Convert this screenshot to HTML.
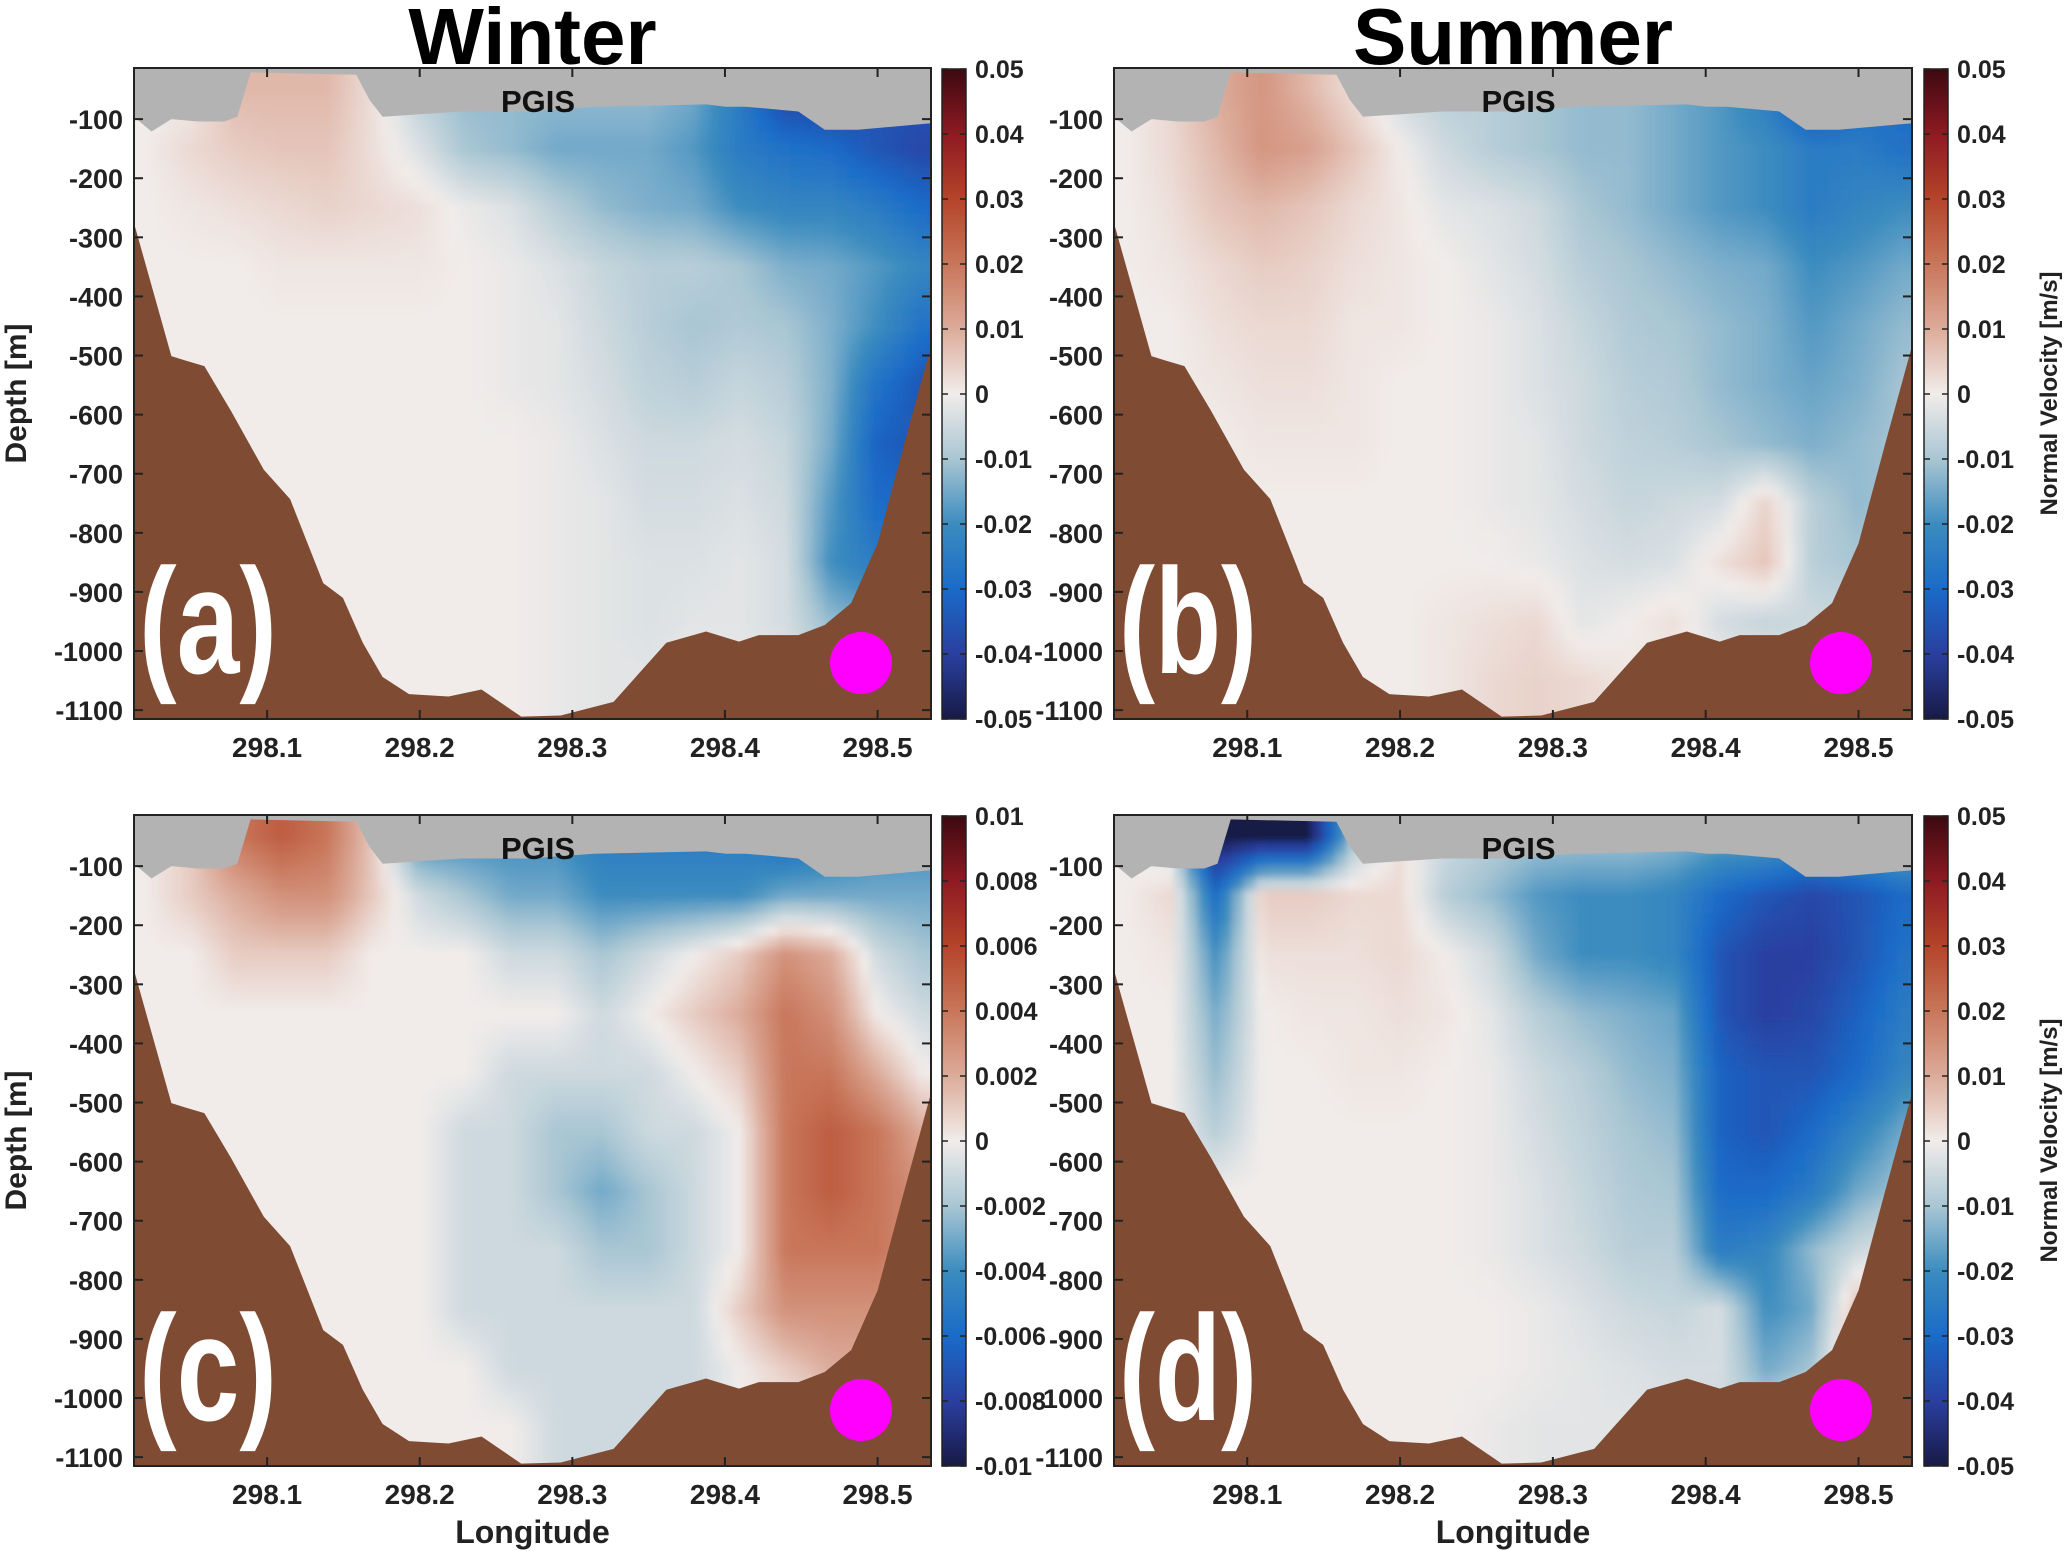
<!DOCTYPE html>
<html><head><meta charset="utf-8"><style>
html,body{margin:0;padding:0;background:#fff;}
svg{display:block;font-family:"Liberation Sans",Arial,sans-serif;}
</style></head><body>
<svg id="fig" width="2067" height="1551" viewBox="0 0 2067 1551">
<defs>
<filter id="blur" x="-5%" y="-5%" width="110%" height="110%"><feGaussianBlur stdDeviation="4"/></filter>
<linearGradient id="cbar" x1="0" y1="1" x2="0" y2="0">
<stop offset="0" stop-color="#181a45"/><stop offset="0.1" stop-color="#2a3fa0"/><stop offset="0.2" stop-color="#1a6bc8"/>
<stop offset="0.3" stop-color="#3c8cbf"/><stop offset="0.4" stop-color="#a9c6d3"/><stop offset="0.5" stop-color="#f1ecea"/>
<stop offset="0.6" stop-color="#dcab9a"/><stop offset="0.7" stop-color="#c8765a"/><stop offset="0.8" stop-color="#b4442a"/>
<stop offset="0.9" stop-color="#8e1a22"/><stop offset="1" stop-color="#3c0911"/></linearGradient>
</defs>
</svg>
<script>
// ---- data ----
const lonCols=[298.02,298.05,298.08,298.11,298.14,298.17,298.20,298.23,298.26,298.29,298.32,298.35,298.38,298.41,298.44,298.47,298.50,298.53];
const depthRows=[-50,-150,-250,-350,-450,-550,-650,-750,-850,-950,-1050];
const xTicks=[298.1,298.2,298.3,298.4,298.5];
const xTickLabels=["298.1","298.2","298.3","298.4","298.5"];
const yTicks=[-100,-200,-300,-400,-500,-600,-700,-800,-900,-1000,-1100];
const cbTicks05=[0.05,0.04,0.03,0.02,0.01,0,-0.01,-0.02,-0.03,-0.04,-0.05];
const cbLabels05=["0.05","0.04","0.03","0.02","0.01","0","-0.01","-0.02","-0.03","-0.04","-0.05"];
const cbTicks01=[0.01,0.008,0.006,0.004,0.002,0,-0.002,-0.004,-0.006,-0.008,-0.01];
const cbLabels01=["0.01","0.008","0.006","0.004","0.002","0","-0.002","-0.004","-0.006","-0.008","-0.01"];
const bathyLon=[298.0127,298.0373,298.0459,298.0589,298.0762,298.0978,298.1151,298.1368,298.1497,298.1627,298.1757,298.1930,298.2189,298.2405,298.2665,298.2924,298.3270,298.3443,298.3616,298.3876,298.4092,298.4222,298.4481,298.4654,298.4827,298.5,298.5173,298.535];
const bathyDepth=[-275,-501,-508,-518,-593,-693,-743,-885,-910,-986,-1044,-1073,-1077,-1065,-1111,-1109,-1086,-1036,-986,-967,-984,-973,-973,-956,-919,-818,-651,-484];
const iceLon=[298.0127,298.0243,298.0373,298.0546,298.0719,298.0805,298.0892,298.1584,298.1670,298.1757,298.2276,298.2708,298.3141,298.3876,298.4005,298.4135,298.4481,298.4654,298.4870,298.535];
const iceDepth=[-96,-121,-100,-104,-104,-96,-21,-25,-67,-96,-87,-87,-79,-75,-79,-79,-87,-118,-118,-107];
// velocity in units of 0.001 m/s, rows = depthRows, cols = lonCols
const velA=[
[0,0,8,8,8,2,-8,-12,-12,-12,-12,-12,-15,-25,-40,-40,-35,-35],
[0,3,5,6,6,2,-3,-10,-12,-15,-15,-15,-18,-25,-28,-30,-35,-38],
[0,1,2,3,4,3,2,-1,-3,-8,-12,-14,-15,-20,-22,-22,-25,-30],
[0,0,0,1,1,1,1,0,-1,-3,-6,-8,-8,-10,-14,-15,-18,-22],
[0,0,0,0,0,0,0,0,-1,-2,-5,-8,-10,-9,-10,-14,-20,-28],
[0,0,0,0,0,0,0,0,-1,-2,-4,-7,-8,-6,-8,-14,-28,-35],
[0,0,0,0,0,0,0,0,0,-1,-3,-5,-5,-4,-6,-15,-32,-35],
[0,0,0,0,0,0,0,0,0,-1,-2,-4,-4,-3,-5,-18,-30,-30],
[0,0,0,0,0,0,0,0,0,-1,-2,-3,-3,-2,-4,-20,-25,-25],
[0,0,0,0,0,0,0,0,0,-1,-2,-3,-2,-2,-4,-12,-15,-15],
[0,0,0,0,0,0,0,0,0,-1,-2,-2,-1,-1,-2,-5,-5,-5]];
const velB=[
[0,3,10,14,8,2,-5,-8,-8,-10,-12,-12,-15,-18,-25,-40,-30,-30],
[0,3,8,14,12,6,0,-5,-8,-10,-12,-12,-15,-18,-20,-25,-25,-28],
[0,2,6,8,6,3,1,-2,-3,-5,-10,-12,-15,-18,-20,-25,-22,-20],
[0,1,3,5,4,2,1,0,-2,-4,-8,-10,-12,-14,-15,-20,-18,-15],
[0,0,2,3,3,1,1,0,-1,-3,-6,-9,-10,-12,-14,-18,-15,-12],
[0,0,1,2,2,1,0,0,-1,-3,-5,-8,-9,-12,-14,-16,-14,-10],
[0,0,0,1,1,1,0,0,-1,-2,-5,-7,-8,-10,-12,-14,-12,-10],
[0,0,0,0,0,0,0,0,-1,-2,-4,-6,-5,-4,4,-8,-12,-10],
[0,0,0,0,0,0,0,0,0,-1,-3,-4,-3,2,6,-8,-10,-8],
[0,0,0,0,0,0,0,1,2,3,-2,0,2,-4,-6,-5,-5,-5],
[0,0,0,0,0,0,0,1,3,4,3,1,0,0,-2,-3,-3,-3]];
const velC=[
[0,1,4,5,4,1,-4,-4,-4,-4,-5,-5,-5,-5,-6,-5,-4,-4],
[0,1,2,3,3,1,-1,-2,-3,-3,-4,-4,-4,-4,-3,-3,-3,-3],
[0,0,1,1,1,0,0,0,-1,-1,-2,-1,0,1,3,2,-1,-2],
[0,0,0,0,0,0,0,0,0,0,-1,0,1,2,4,3,0,-1],
[0,0,0,0,0,0,0,0,-1,-1,-1,-1,0,1,4,4,2,0],
[0,0,0,0,0,0,0,-1,-1,-2,-2,-1,-1,0,4,5,4,2],
[0,0,0,0,0,0,0,-1,-1,-2,-3,-2,-1,0,4,5,4,3],
[0,0,0,0,0,0,0,-1,-1,-1,-2,-2,-1,0,4,4,4,3],
[0,0,0,0,0,0,0,-1,-1,-1,-1,-1,-1,1,3,3,3,2],
[0,0,0,0,0,0,0,0,-1,-1,-1,-1,-1,0,1,2,2,2],
[0,0,0,0,0,0,0,0,0,-1,-1,-1,-1,0,0,0,0,0]];
const velD=[
[0,-5,-50,-50,-50,-10,2,-5,-8,-10,-10,-10,-12,-15,-15,-20,-15,-12],
[0,3,-30,5,5,3,3,-8,-12,-18,-20,-20,-22,-30,-35,-38,-35,-30],
[0,1,-20,2,2,2,3,0,-5,-15,-20,-20,-22,-35,-40,-40,-35,-28],
[0,0,-15,0,1,1,2,1,-2,-8,-12,-14,-16,-35,-40,-38,-32,-25],
[0,0,-12,0,0,1,1,0,-1,-5,-8,-12,-14,-32,-35,-35,-30,-22],
[0,0,-8,0,0,0,0,0,-1,-4,-7,-10,-12,-32,-35,-30,-22,-15],
[0,0,0,0,0,0,0,0,-1,-3,-6,-9,-10,-30,-30,-25,-15,-10],
[0,0,0,0,0,0,0,0,-1,-3,-5,-8,-8,-25,-22,-12,-5,-2],
[0,0,0,0,0,0,0,0,0,-1,-3,-5,-6,-4,-20,-15,8,8],
[0,0,0,0,0,0,0,0,0,-1,-2,-3,-4,-4,-15,-10,10,10],
[0,0,0,0,0,0,0,0,-1,-2,-2,-2,-3,-5,-5,5,5,5]];
// ---- rendering ----
const NS="http://www.w3.org/2000/svg";
const svg=document.getElementById('fig');
function mk(tag,attrs,parent){const e=document.createElementNS(NS,tag);for(const k in attrs)e.setAttribute(k,attrs[k]);(parent||svg).appendChild(e);return e;}
const stops=[[-1,[24,26,69]],[-0.8,[42,63,160]],[-0.6,[26,107,200]],[-0.4,[60,140,191]],[-0.2,[169,198,211]],[0,[241,236,234]],[0.2,[220,171,154]],[0.4,[200,118,90]],[0.6,[180,68,42]],[0.8,[142,26,34]],[1,[60,9,17]]];
function cmap(t){t=Math.max(-1,Math.min(1,t));for(let i=1;i<stops.length;i++){if(t<=stops[i][0]){const a=stops[i-1],b=stops[i];const f=(t-a[0])/(b[0]-a[0]);const c=a[1].map((v,j)=>Math.round(v+(b[1][j]-v)*f));return `rgb(${c})`;}}return 'rgb(60,9,17)';}
function idxF(arr,v){ // fractional index in ascending/descending array, clamped
  const n=arr.length;const asc=arr[1]>arr[0];
  for(let i=0;i<n-1;i++){const a=arr[i],b=arr[i+1];if(asc?(v<=b):(v>=b)){return Math.max(0,Math.min(n-1,i+(v-a)/(b-a)));}}
  return n-1;}
function sample(grid,lon,dep){
  const fc=Math.max(0,Math.min(lonCols.length-1,idxF(lonCols,lon)));
  const fr=Math.max(0,Math.min(depthRows.length-1,idxF(depthRows,dep)));
  const c0=Math.floor(fc),c1=Math.min(c0+1,lonCols.length-1),r0=Math.floor(fr),r1=Math.min(r0+1,depthRows.length-1);
  const tc=fc-c0,tr=fr-r0;
  const v0=grid[r0][c0]*(1-tc)+grid[r0][c1]*tc, v1=grid[r1][c0]*(1-tc)+grid[r1][c1]*tc;
  return v0*(1-tr)+v1*tr;}
const LON0=298.0128,LON1=298.535,D0=-13.5,D1=-1115;
const panels=[
 {id:'a',x0:134,x1:931,y0:68,y1:719,vel:velA,lim:50,cbx:942,ticks:cbTicks05,labels:cbLabels05,lab:'(a)',ylab:true,cbTitle:false,xTitle:false,title:'Winter'},
 {id:'b',x0:1114,x1:1912,y0:68,y1:719,vel:velB,lim:50,cbx:1924,ticks:cbTicks05,labels:cbLabels05,lab:'(b)',ylab:false,cbTitle:true,xTitle:false,title:'Summer'},
 {id:'c',x0:134,x1:931,y0:815,y1:1466,vel:velC,lim:10,cbx:942,ticks:cbTicks01,labels:cbLabels01,lab:'(c)',ylab:true,cbTitle:false,xTitle:true},
 {id:'d',x0:1114,x1:1912,y0:815,y1:1466,vel:velD,lim:50,cbx:1924,ticks:cbTicks05,labels:cbLabels05,lab:'(d)',ylab:false,cbTitle:true,xTitle:true}];
panels.forEach(p=>{
 const X=l=>p.x0+(l-LON0)/(LON1-LON0)*(p.x1-p.x0);
 const Y=d=>p.y0+(d-D0)/(D1-D0)*(p.y1-p.y0);
 const clip=mk('clipPath',{id:'clip'+p.id},svg.querySelector('defs'));
 mk('rect',{x:p.x0,y:p.y0,width:p.x1-p.x0,height:p.y1-p.y0},clip);
 const outer=mk('g',{'clip-path':`url(#clip${p.id})`});
 
 
 const hm=mk('g',{filter:'url(#blur)'},outer);
 
 
 const dl=0.0075,dd=20;
 for(let dep=0;dep>-1160;dep-=dd)for(let lon=298.0;lon<298.55;lon+=dl){
   const v=sample(p.vel,lon+dl/2,dep-dd/2);
   const cell=mk('rect',{x:X(lon),y:Y(dep),width:X(lon+dl)-X(lon)+0.6,height:Y(dep-dd)-Y(dep)+0.6,fill:cmap(v/p.lim)},hm);
   
   
 }
 let ip=`M${p.x0-5},${p.y0-5} `;iceLon.forEach((l,i)=>{ip+=`L${X(l)},${Y(iceDepth[i])} `;});ip+=`L${p.x1+5},${Y(iceDepth[iceDepth.length-1])} L${p.x1+5},${p.y0-5} Z`;
 const ice=mk('path',{d:ip,fill:'#b3b3b3'},outer);
 
 
 let bp=`M${p.x0-5},${p.y1+5} L${p.x0-5},${Y(bathyDepth[0])} `;bathyLon.forEach((l,i)=>{bp+=`L${X(l)},${Y(bathyDepth[i])} `;});bp+=`L${p.x1+5},${Y(bathyDepth[bathyDepth.length-1])} L${p.x1+5},${p.y1+5} Z`;
 const bed=mk('path',{d:bp,fill:'#7f4b32','stroke-linejoin':'round'},outer);
 
 
 const pg=mk('text',{x:X(298.2775),y:Y(-88),'font-size':31,'font-weight':'bold','text-anchor':'middle',fill:'#111'},outer);pg.textContent='PGIS';
 
 
 const pl=mk('text',{x:p.x0+5,y:p.y0+605,'font-size':150,'font-weight':'bold',fill:'#fff',textLength:138,lengthAdjust:'spacingAndGlyphs'},outer);pl.textContent=p.lab;
 
 
 const dot=mk('circle',{cx:p.x0+727,cy:p.y0+595,r:31,fill:'#ff00ff'},outer);
 
 
 const box=mk('rect',{x:p.x0,y:p.y0,width:p.x1-p.x0,height:p.y1-p.y0,fill:'none',stroke:'#222','stroke-width':2});
 
 
 xTicks.forEach((t,i)=>{const x=X(t);
  mk('line',{x1:x,x2:x,y1:p.y1,y2:p.y1-9,stroke:'#222','stroke-width':2});
  mk('line',{x1:x,x2:x,y1:p.y0,y2:p.y0+9,stroke:'#222','stroke-width':2});
  const tl=mk('text',{x:x,y:p.y1+38,'font-size':28,'font-weight':'bold','text-anchor':'middle',fill:'#222'});tl.textContent=xTickLabels[i];
  
  });
 yTicks.forEach(t=>{const y=Y(t);
  mk('line',{x1:p.x0,x2:p.x0+9,y1:y,y2:y,stroke:'#222','stroke-width':2});
  mk('line',{x1:p.x1,x2:p.x1-9,y1:y,y2:y,stroke:'#222','stroke-width':2});
  const tl=mk('text',{x:p.x0-11,y:y+10,'font-size':27,'font-weight':'bold','text-anchor':'end',fill:'#222'});tl.textContent=String(t);
  
  });
 if(p.ylab){const yl=mk('text',{x:0,y:0,'font-size':30,'font-weight':'bold','text-anchor':'middle',fill:'#222',transform:`translate(26,${(p.y0+p.y1)/2}) rotate(-90)`});yl.textContent='Depth [m]';
  
  }
 if(p.xTitle){const xl=mk('text',{x:(p.x0+p.x1)/2,y:1543,'font-size':32,'font-weight':'bold','text-anchor':'middle',fill:'#222'});xl.textContent='Longitude';
  
  }
 if(p.title){const tt=mk('text',{x:(p.x0+p.x1)/2,y:64,'font-size':80,'font-weight':'bold','text-anchor':'middle',fill:'#000'});tt.textContent=p.title;
  
  }
 const cb=mk('rect',{x:p.cbx,y:p.y0+1,width:24,height:p.y1-p.y0-1,fill:'url(#cbar)',stroke:'#222','stroke-width':1.5});
 
 
 const cmax=p.ticks[0];
 p.ticks.forEach((t,i)=>{const y=p.y0+1+(cmax-t)/(2*cmax)*(p.y1-p.y0-1);
  mk('line',{x1:p.cbx+24,x2:p.cbx+18,y1:y,y2:y,stroke:'#222','stroke-width':1.5});
  mk('line',{x1:p.cbx,x2:p.cbx+6,y1:y,y2:y,stroke:'#222','stroke-width':1.5});
  const cl=mk('text',{x:p.cbx+33,y:y+9,'font-size':25,'font-weight':'bold',fill:'#222'});cl.textContent=p.labels[i];
  
  });
 if(p.cbTitle){const ct=mk('text',{x:0,y:0,'font-size':24,'font-weight':'bold','text-anchor':'middle',fill:'#222',transform:`translate(2057,${(p.y0+p.y1)/2}) rotate(-90)`});ct.textContent='Normal Velocity [m/s]';
  
  }
});
</script>
</body></html>
